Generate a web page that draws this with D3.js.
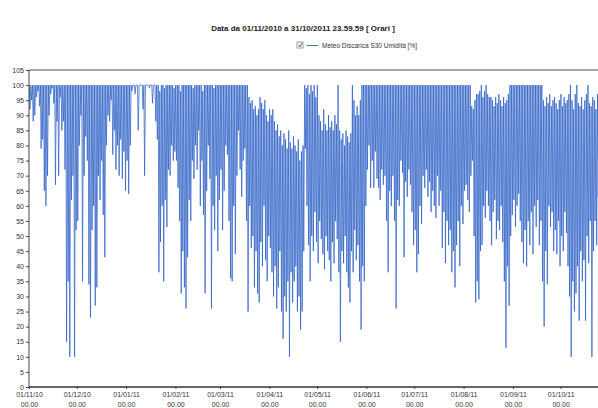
<!DOCTYPE html>
<html>
<head>
<meta charset="utf-8">
<script src="https://cdn.jsdelivr.net/npm/d3@7"></script>
<style>
  body { margin: 0; background: #fff; }
  svg { display: block; font-family: Arial, "Liberation Sans", sans-serif; }
  .tick text { fill: #333; font-size: 7px; }
  .domain { display: none; }
</style>
</head>
<body>
<div id="graphic"></div>
<script>
(function(d3){

    // Canvas size
    let width = 598, height = 408;

    // Plot area (the right edge runs past the window, like the scan)
    let left = 29, right = 610, top = 70, bottom = 387;

    let title = 'Data da 01/11/2010 a 31/10/2011 23.59.59  [ Orari ]';
    let seriesName = 'Meteo Discarica S30 Umidità [%]';

    // Daily lowest humidity (day 0 = 01/11/2010)
    let dayMin = [
        92, 95, 88, 90, 96, 98, 93, 79, 82, 65,
        60, 70, 90, 97, 99, 94, 67, 88, 70, 96,
        85, 88, 72, 15, 35, 10, 62, 70, 10, 52,
        55, 80, 90, 35, 70, 83, 75, 34, 23, 52,
        60, 27, 33, 70, 62, 75, 57, 43, 80, 90,
        88, 95, 77, 85, 72, 80, 70, 82, 69, 78,
        65, 75, 64, 80, 98, 100, 97, 100, 85, 100,
        100, 92, 70, 100, 100, 99, 100, 94, 100, 88,
        82, 38, 48, 60, 35, 62, 53, 72, 70, 80,
        75, 78, 75, 66, 55, 31, 45, 33, 26, 43,
        62, 55, 75, 69, 80, 72, 85, 60, 75, 57,
        31, 65, 80, 69, 26, 60, 52, 70, 45, 62,
        72, 52, 65, 80, 77, 55, 36, 35, 60, 44,
        70, 85, 72, 63, 75, 79, 55, 25, 60, 46,
        50, 33, 45, 31, 28, 48, 40, 60, 42, 35,
        50, 46, 38, 30, 40, 26, 33, 45, 25, 16,
        30, 25, 35, 10, 38, 28, 35, 40, 25, 30,
        19, 25, 45, 79, 60, 47, 35, 50, 45, 58,
        48, 41, 55, 49, 44, 39, 50, 45, 42, 35,
        48, 41, 55, 49, 38, 15, 45, 41, 50, 38,
        33, 28, 45, 38, 52, 42, 47, 35, 19, 40,
        35, 60, 72, 80, 66, 75, 66, 78, 69, 66,
        62, 72, 67, 70, 55, 38, 65, 60, 70, 55,
        26, 62, 60, 75, 71, 43, 68, 63, 72, 67,
        58, 47, 52, 38, 44, 60, 54, 70, 66, 72,
        63, 68, 58, 65, 60, 56, 70, 60, 65, 46,
        58, 41, 55, 47, 52, 38, 45, 33, 47, 55,
        40, 60, 54, 65, 67, 62, 58, 70, 75, 50,
        28, 35, 29, 45, 47, 60, 56, 65, 60, 55,
        47, 58, 62, 49, 55, 52, 60, 48, 35, 13,
        40, 27, 50, 57, 62, 53, 60, 64, 55, 48,
        41, 52, 40, 55, 47, 58, 44, 60, 53, 62,
        47, 55, 35, 20, 45, 34, 60, 53, 58, 45,
        52, 44, 55, 40, 50, 45, 58, 51, 40, 30,
        10, 35, 25, 31, 40, 22, 45, 35, 42, 22,
        50, 41, 55, 10, 45, 55, 47, 63, 55, 60,
        50, 65, 58, 60, 55
    ];

    // Daily highest humidity
    let dayMax = [
        100, 100, 100, 100, 100, 100, 100, 100, 100, 100,
        100, 100, 100, 100, 100, 100, 100, 100, 100, 100,
        100, 100, 100, 100, 100, 100, 100, 100, 100, 100,
        100, 100, 100, 100, 100, 100, 100, 100, 100, 100,
        100, 100, 100, 100, 100, 100, 100, 100, 100, 100,
        100, 100, 100, 100, 100, 100, 100, 100, 100, 100,
        100, 100, 100, 100, 100, 100, 100, 100, 100, 100,
        100, 100, 100, 100, 100, 100, 100, 100, 100, 100,
        100, 100, 98, 100, 100, 99, 100, 100, 100, 100,
        100, 99, 100, 100, 100, 98, 100, 100, 100, 100,
        100, 100, 100, 99, 100, 100, 100, 100, 100, 98,
        100, 100, 100, 100, 100, 100, 99, 100, 100, 100,
        100, 100, 100, 100, 100, 100, 100, 100, 100, 100,
        100, 100, 100, 100, 100, 100, 100, 100, 96, 94,
        95, 92, 93, 90, 92, 96, 94, 92, 95, 90,
        88, 92, 90, 92, 88, 85, 87, 83, 85, 80,
        84, 82, 79, 85, 81, 79, 83, 80, 78, 82,
        75, 78, 80, 100, 99, 100, 97, 100, 98, 100,
        96, 100, 90, 88, 85, 92, 87, 85, 90, 86,
        88, 85, 90, 87, 100, 85, 82, 84, 80, 85,
        83, 81, 84, 100, 95, 90, 93, 90, 95, 100,
        100, 100, 100, 100, 100, 100, 100, 100, 100, 100,
        100, 100, 100, 100, 100, 100, 100, 100, 100, 100,
        100, 100, 100, 100, 100, 100, 100, 100, 100, 100,
        100, 100, 100, 100, 100, 100, 100, 100, 100, 100,
        100, 100, 100, 100, 100, 100, 100, 100, 100, 100,
        100, 100, 100, 100, 100, 100, 100, 100, 100, 100,
        100, 100, 100, 100, 100, 100, 100, 100, 93, 92,
        95, 97, 97, 98, 100, 96, 98, 100, 97, 96,
        96, 95, 93, 96, 94, 97, 95, 93, 96, 94,
        95, 97, 100, 100, 100, 100, 100, 100, 100, 100,
        100, 100, 100, 100, 100, 100, 100, 100, 100, 100,
        100, 100, 100, 95, 93, 96, 94, 97, 93, 95,
        96, 94, 92, 95, 97, 93, 96, 94, 95, 97,
        100, 95, 92, 97, 100, 94, 93, 96, 92, 95,
        97, 100, 94, 93, 96, 95, 92, 97, 95, 96,
        93, 97, 95, 94, 96
    ];

    let yTicks = [0, 5, 10, 15, 20, 25, 30, 35, 40, 45, 50, 55, 60, 65, 70, 75, 80, 85, 90, 95, 100, 105];
    let xTickLabels = ['01/11/10', '01/12/10', '01/01/11', '01/02/11', '01/03/11', '01/04/11',
                       '01/05/11', '01/06/11', '01/07/11', '01/08/11', '01/09/11', '01/10/11'];

    let parseDay = d3.timeParse('%d/%m/%y');
    let start = new Date(2010, 10, 1), end = new Date(2011, 10, 1);

    let svg = d3.select('#graphic')
                .append('svg')
                .attr('width', width)
                .attr('height', height);

    let x = d3.scaleTime().domain([start, end]).range([left, right]);
    let y = d3.scaleLinear().domain([0, 105]).range([bottom, top]);

    // Each day: the night high first, then the afternoon low
    let points = [];
    dayMin.forEach((lo, i) => {
        let day = d3.timeDay.offset(start, i);
        points.push({ t: d3.timeHour.offset(day, 4), v: dayMax[i] });
        points.push({ t: d3.timeHour.offset(day, 15), v: lo });
    });

    // Title and legend
    svg.append('text')
        .attr('x', 303).attr('y', 31)
        .attr('text-anchor', 'middle')
        .style('font-size', '8px')
        .style('font-weight', 'bold')
        .attr('fill', '#222')
        .text(title);

    svg.append('rect')
        .attr('x', 297).attr('y', 42).attr('width', 6).attr('height', 6)
        .attr('fill', '#fff').attr('stroke', '#777').attr('stroke-width', 0.7);
    svg.append('path')
        .attr('d', 'M298.5,45 L300,46.8 L302,43')
        .attr('fill', 'none').attr('stroke', '#333').attr('stroke-width', 0.8);
    svg.append('line')
        .attr('x1', 307).attr('x2', 318).attr('y1', 45.5).attr('y2', 45.5)
        .attr('stroke', '#3a8a6a').attr('stroke-width', 1);
    svg.append('text')
        .attr('x', 322).attr('y', 48)
        .style('font-size', '6.5px')
        .attr('fill', '#333')
        .text(seriesName);

    // Clip to the plot area
    svg.append('clipPath').attr('id', 'plot-clip')
        .append('rect')
        .attr('x', left).attr('y', top - 2)
        .attr('width', right - left).attr('height', bottom - top + 2);

    let line = d3.line()
        .x(d => x(d.t))
        .y(d => y(d.v));

    svg.append('path')
        .datum(points)
        .attr('clip-path', 'url(#plot-clip)')
        .attr('d', line)
        .attr('fill', 'none')
        .attr('stroke', '#2f62c6')
        .attr('stroke-width', 0.75)
        .attr('stroke-linejoin', 'miter');

    // Frame: top border, left axis, bottom axis
    svg.append('line')
        .attr('x1', left).attr('x2', width).attr('y1', top).attr('y2', top)
        .attr('stroke', '#555').attr('stroke-width', 1.2);

    let yAxis = svg.append('g')
        .attr('transform', `translate(${left},0)`)
        .call(d3.axisLeft(y).tickValues(yTicks).tickSize(3).tickPadding(2));
    yAxis.selectAll('.tick line').attr('stroke', '#444');
    svg.append('line')
        .attr('x1', left).attr('x2', left).attr('y1', top).attr('y2', bottom)
        .attr('stroke', '#444').attr('stroke-width', 1);

    let xAxis = svg.append('g')
        .attr('transform', `translate(0,${bottom})`)
        .call(d3.axisBottom(x)
            .tickValues(xTickLabels.map(parseDay))
            .tickSize(2)
            .tickPadding(3)
            .tickFormat(d3.timeFormat('%d/%m/%y')));
    xAxis.selectAll('.tick line').attr('stroke', '#444');
    xAxis.selectAll('.tick text').attr('dy', '0.75em');
    xAxis.selectAll('.tick').append('text')
        .attr('y', 15).attr('dy', '0.75em')
        .attr('text-anchor', 'middle')
        .attr('fill', '#333')
        .style('font-size', '7px')
        .text('00.00');
    svg.append('line')
        .attr('x1', left).attr('x2', width).attr('y1', bottom).attr('y2', bottom)
        .attr('stroke', '#333').attr('stroke-width', 1.6);

})(window.d3);
</script>
</body>
</html>
